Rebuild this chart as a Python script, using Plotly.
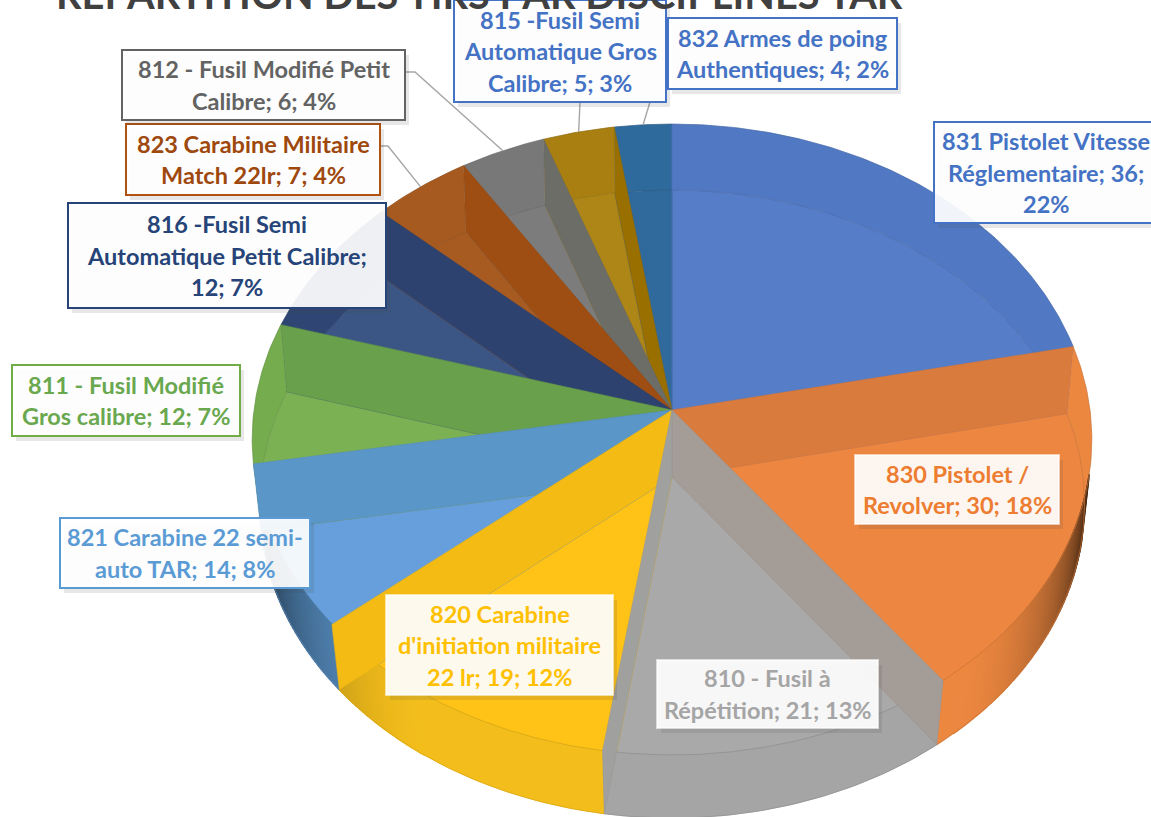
import numpy as np
import plotly.graph_objects as go

# ---- data ----
codes = ["831", "830", "810", "820", "821", "811", "816", "823", "812", "815", "832"]
values = [36, 30, 21, 19, 14, 12, 12, 7, 6, 5, 4]
label_lines = [
    ["831 Pistolet Vitesse", "Réglementaire; 36;", "22%"],
    ["830 Pistolet /", "Revolver; 30; 18%"],
    ["810 - Fusil à", "Répétition; 21; 13%"],
    ["820 Carabine", "d'initiation militaire", "22 lr; 19; 12%"],
    ["821 Carabine 22 semi-", "auto TAR; 14; 8%"],
    ["811 - Fusil Modifié", "Gros calibre; 12; 7%"],
    ["816 -Fusil Semi", "Automatique Petit Calibre;", "12; 7%"],
    ["823 Carabine Militaire", "Match 22lr; 7; 4%"],
    ["812 - Fusil Modifié Petit", "Calibre; 6; 4%"],
    ["815 -Fusil Semi", "Automatique Gros", "Calibre; 5; 3%"],
    ["832 Armes de poing", "Authentiques; 4; 2%"],
]
title_text = "REPARTITION DES TIRS PAR DISCIPLINES TAR"

# ---- styles ----
floor_col = ["#567DC8", "#ED8640", "#A9A9A9", "#FFC217", "#669FDB", "#7BB153",
             "#3B5585", "#A85B20", "#7C7C7C", "#AD8617", "#30699C"]
wall_col = ["#5179C3", "#DA7B3E", "#A39C97", "#F3BB13", "#5B96C8", "#69A04B",
            "#2E426F", "#9E4E12", "#6D6D68", "#997000", "#2F6A9C"]
shell_col = ["#5179C3", "#EC8740", "#A5A5A5", "#F3BE1C", "#5B94C9", "#74AC4E",
             "#2F4573", "#A65A1F", "#787878", "#A87F10", "#2F6A9C"]
text_col = ["#4472C4", "#ED7D31", "#A5A5A5", "#FFC000", "#5B9BD5", "#6AA84F",
            "#264478", "#9E480E", "#636363", "#4472C4", "#4472C4"]
border_col = ["#4472C4", None, None, None, "#5B9BD5", "#70AD47",
              "#264478", "#B0530F", "#636363", "#4472C4", "#4472C4"]
# label boxes: left, right, top, bottom
boxes = [(934, 1158, 122, 223), (855, 1059, 455, 524), (657, 878, 660, 728),
         (386, 613, 595, 695), (60, 310, 518, 588), (12, 240, 365, 436),
         (68, 386, 203, 308), (126, 380, 124, 195), (122, 405, 50, 120),
         (454, 666, 0, 102), (668, 897, 18, 89)]
FONT = "Lato"
FS = 23.5
LINE = 31.5


def rim_top(t):
    X, Y = np.sin(t), np.cos(t)
    w = 1 + 0.0935 * Y
    return 672 + 418 * X / w, 410 - 312.7 * Y / w


def rim_low(t):
    X, Y = np.sin(t), np.cos(t)
    w = 1 + 0.086 * Y
    return 672 + 411 * X / w, 477 - 311.7 * Y / w


def arc(a, b, n=None):
    n = n or max(3, int(abs(b - a) / np.radians(0.7)))
    return np.linspace(a, b, n)


def darken(hex_col, f):
    r, g, b = (int(hex_col[i:i + 2], 16) for i in (1, 3, 5))
    return f"rgb({r * (1 - f):.0f},{g * (1 - f):.0f},{b * (1 - f):.0f})"


def shade(deg):
    """Light falling off on the outer side of the drum."""
    if 102 <= deg < 140:
        return 0.72 * (1 - (deg - 102) / 38) ** 1.6
    if 214 <= deg < 254:
        return 0.58 * ((deg - 214) / 40) ** 1.5
    return 0.0


def poly(x, y, fill, line=None, lw=0.0):
    return go.Scatter(x=list(x), y=list(y), mode="lines", fill="toself", fillcolor=fill,
                      line=dict(color=line or fill, width=lw), hoverinfo="skip", showlegend=False)


total = sum(values)
cum = np.cumsum([0] + values) / total * 2 * np.pi
fig = go.Figure()

# floor of the pie
for i in range(len(values)):
    th = arc(cum[i], cum[i + 1])
    x, y = rim_low(th)
    fig.add_trace(poly([672, *x, 672], [477, *y, 477], floor_col[i], darken(floor_col[i], 0.08), 0.5))

# drum side, between upper and lower rim
for i in range(len(values)):
    th = arc(cum[i], cum[i + 1])
    xa, ya = rim_top(th)
    xb, yb = rim_low(th[::-1])
    fig.add_trace(poly([*xa, *xb, xa[0]], [*ya, *yb, ya[0]], shell_col[i]))
    # shaded part only where the side turns away from the light
    for j in range(0, len(th) - 1):
        seg = th[j:j + 2]
        f = shade(np.degrees(seg.mean()))
        if f > 0:
            xa2, ya2 = rim_top(seg)
            xb2, yb2 = rim_low(seg[::-1])
            c = darken(shell_col[i], f)
            fig.add_trace(poly([*xa2, *xb2, xa2[0]], [*ya2, *yb2, ya2[0]], c, c, 1.5))
    xa, ya = rim_top(th)
    fig.add_trace(go.Scatter(x=xa, y=ya, mode="lines", hoverinfo="skip", showlegend=False,
                             line=dict(color=darken(shell_col[i], 0.15), width=0.7)))
    xb, yb = rim_low(th)
    fig.add_trace(go.Scatter(x=xb, y=yb, mode="lines", hoverinfo="skip", showlegend=False,
                             line=dict(color=darken(floor_col[i], 0.15), width=0.7)))

# inner walls at each slice boundary, back to front
walls = []
for k in range(len(values)):
    t = cum[k]
    owner = k if t < np.pi else k - 1
    walls.append((np.cos(t), t, owner, k))
for _, t, owner, k in sorted(walls, key=lambda w: -w[0]):
    xa, ya = rim_top(t)
    xb, yb = rim_low(t)
    col = "#A0A09E" if k == 3 else wall_col[owner]
    fig.add_trace(poly([672, xa, xb, 672, 672], [410, ya, yb, 477, 410], col, darken(col, 0.06), 0.5))

shapes = []
annotations = [dict(text=f"<b>{title_text}</b>", x=479, y=10.5, xref="x", yref="y", showarrow=False,
                    xanchor="center", yanchor="bottom", yshift=-9,
                    font=dict(family=FONT, size=39.8, color="#404040"))]

# leader lines for the top-left slices
for i, ax, ay, elbow in [(8, 405, 72, 415), (7, 380, 146, 388), (9, 580, 102, 580), (10, 650, 102, 650)]:
    rx, ry = rim_top((cum[i] + cum[i + 1]) / 2)
    fig.add_trace(go.Scatter(x=[ax, elbow, rx], y=[ay, ay, ry], mode="lines", hoverinfo="skip",
                             showlegend=False, line=dict(color="#A6A6A6", width=1.4)))

for i, lines in enumerate(label_lines):
    l, r, t, b = boxes[i]
    edge = border_col[i] or "rgba(255,255,255,0.6)"
    shapes.append(dict(type="rect", x0=l + 4, x1=r + 4, y0=t + 5, y1=b + 5, layer="above",
                       line=dict(width=0), fillcolor="rgba(70,70,70,0.13)"))
    shapes.append(dict(type="rect", x0=l, x1=r, y0=t, y1=b, layer="above",
                       line=dict(color=edge, width=2), fillcolor="rgba(255,255,255,0.92)"))
    mid = (t + b) / 2
    for n, s in enumerate(lines):
        annotations.append(dict(text=f"<b>{s}</b>", x=(l + r) / 2, y=mid + (n - (len(lines) - 1) / 2) * LINE,
                                xref="x", yref="y", showarrow=False, xanchor="center", yanchor="middle",
                                font=dict(family=FONT, size=FS, color=text_col[i])))

fig.update_layout(
    width=1151, height=817, margin=dict(l=0, r=0, t=0, b=0),
    paper_bgcolor="white", plot_bgcolor="white", showlegend=False,
    xaxis=dict(range=[0, 1151], visible=False, fixedrange=True),
    yaxis=dict(range=[817, 0], visible=False, fixedrange=True),
    shapes=shapes, annotations=annotations,
)
fig.write_html("out.html", config={"displayModeBar": False},
               post_script="document.body.style.margin='0';document.documentElement.style.overflow='hidden';")
